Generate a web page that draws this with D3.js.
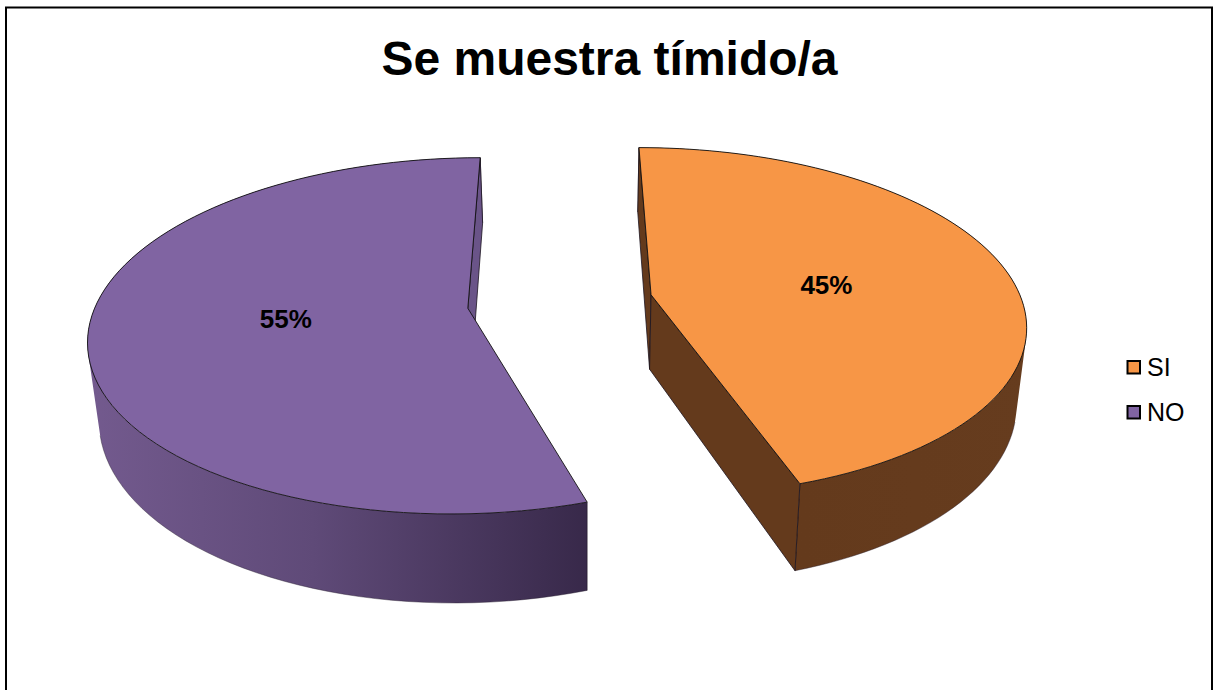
<!DOCTYPE html>
<html>
<head>
<meta charset="utf-8">
<script src="https://d3js.org/d3.v7.min.js"></script>
<style>
    body { margin: 0; background: #fff; }
    svg { display: block; }
    text { font-family: "Liberation Sans", Arial, sans-serif; fill: #000; }
</style>
</head>
<body>
<script>
"use strict";
(function(){
    // Chart data
    const categories = ["SI", "NO"];
    const percents = [45, 55];
    const chartTitle = "Se muestra tímido/a";

    // Colors per slice
    const topColors = ["#F79646", "#8064A2"];
    const cutColors = ["#643A1C", "#6A5488"];

    const measurements = { width: 1213, height: 690 };

    // Perspective of the pie: horizon, vertical vanishing, radius on screen
    const view = {
        vanishX: 560,
        horizonY: -815,
        radiusX: 371,
        planeY: 1116.5,
        distance: 6.5,
        depthY: 1.067,
        depthX: 0.977,
        leanX: 586,
        explode: 0.25
    };

    // Where the percent labels sit inside their slice
    const labelRadius = [0.49, 0.485];
    const labelNudge = [3, -3];

    const svg = d3.select("body").append("svg")
        .attr("width", measurements.width)
        .attr("height", measurements.height);

    // Projects a point of the pie plane to the screen, bottom=true gives the lower face
    function project(wx, wy, bottom) {
        const w = 1 / (1 - wy / view.distance);
        let x = view.vanishX + view.radiusX * wx * w;
        let y = view.horizonY + view.planeY * w;
        if (bottom) {
            x = view.leanX + (x - view.leanX) * view.depthX;
            y = view.horizonY + (y - view.horizonY) * view.depthY;
        }
        return [x, y];
    }

    // Point at a radius and a pie angle inside one exploded slice
    function slicePoint(d, radius, angle, bottom) {
        const mid = (d.startAngle + d.endAngle) / 2;
        const wx = view.explode * Math.sin(mid) + radius * Math.sin(angle);
        const wy = -view.explode * Math.cos(mid) - radius * Math.cos(angle);
        return project(wx, wy, bottom);
    }

    function rimAngles(d) {
        const steps = 90;
        return d3.range(steps + 1).map(i => d.startAngle + (d.endAngle - d.startAngle) * i / steps);
    }

    const pie = d3.pie().sort(null).startAngle(0).endAngle(2 * Math.PI);
    const slices = pie(percents);
    const line = d3.line();

    drawFrame();
    drawGradients();
    slices.forEach(drawSlice);
    drawLabels();
    drawLegend();

    // Chart border, the bottom runs off the picture
    function drawFrame() {
        svg.append("path")
            .attr("d", line([[6, measurements.height + 5], [6, 7.5], [1212, 7.5], [1212, measurements.height + 5]]))
            .attr("fill", "none")
            .attr("stroke", "#000")
            .attr("stroke-width", 2);

        svg.append("text")
            .attr("x", 609.5)
            .attr("y", 75)
            .attr("text-anchor", "middle")
            .attr("font-size", 48)
            .attr("font-weight", "bold")
            .text(chartTitle);
    }

    // Shading of the outer walls, one for each slice
    function drawGradients() {
        const defs = svg.append("defs");
        const orange = defs.append("linearGradient")
            .attr("id", "wall0")
            .attr("gradientUnits", "userSpaceOnUse")
            .attr("x1", 800).attr("x2", 1030).attr("y1", 0).attr("y2", 0);
        orange.append("stop").attr("offset", 0).attr("stop-color", "#643A1C");
        orange.append("stop").attr("offset", 1).attr("stop-color", "#663C1E");

        const purple = defs.append("linearGradient")
            .attr("id", "wall1")
            .attr("gradientUnits", "userSpaceOnUse")
            .attr("x1", 90).attr("x2", 586).attr("y1", 0).attr("y2", 0);
        purple.append("stop").attr("offset", 0).attr("stop-color", "#735A8E");
        purple.append("stop").attr("offset", 0.45).attr("stop-color", "#5F4A78");
        purple.append("stop").attr("offset", 1).attr("stop-color", "#38294A");
    }

    function drawSlice(d, i) {
        const g = svg.append("g").attr("class", "slice");
        const angles = rimAngles(d);
        const topRim = angles.map(a => slicePoint(d, 1, a, false));
        const bottomRim = angles.map(a => slicePoint(d, 1, a, true));
        const apexTop = slicePoint(d, 0, 0, false);
        const apexBottom = slicePoint(d, 0, 0, true);

        // Outer wall: all strips in one path, same winding, so no seams show
        const wallPath = d3.range(angles.length - 1).map(k => {
            const quad = [topRim[k], topRim[k + 1], bottomRim[k + 1], bottomRim[k]];
            if (d3.polygonArea(quad) < 0) quad.reverse();
            return line(quad) + "Z";
        }).join("");

        g.append("path")
            .attr("d", wallPath)
            .attr("fill", "url(#wall" + i + ")")
            .attr("fill-rule", "nonzero");

        // Lower rim, front part only, and the vertical edges of the wall
        g.append("path")
            .attr("d", line(bottomRim.filter((p, k) => Math.cos(angles[k]) < -0.25)))
            .attr("fill", "none")
            .attr("stroke", "#2a2030")
            .attr("stroke-opacity", 0.6)
            .attr("stroke-width", 0.7);

        [0, angles.length - 1].forEach(k => {
            g.append("path")
                .attr("d", line([topRim[k], bottomRim[k]]))
                .attr("stroke", "#1c1420")
                .attr("stroke-opacity", 0.8)
                .attr("stroke-width", 0.7);
        });

        // Cut faces, only the ones turned to the viewer
        [0, angles.length - 1].forEach(k => {
            const cross = (topRim[k][0] - apexTop[0]) * (apexBottom[1] - apexTop[1])
                - (topRim[k][1] - apexTop[1]) * (apexBottom[0] - apexTop[0]);
            const visible = k === 0 ? cross < 0 : cross > 0;
            if (!visible) return;
            g.append("path")
                .attr("d", line([apexTop, topRim[k], bottomRim[k], apexBottom]) + "Z")
                .attr("fill", cutColors[i])
                .attr("stroke", "#1c1420")
                .attr("stroke-width", 0.8)
                .attr("stroke-linejoin", "round");
        });

        // Top face
        g.append("path")
            .attr("d", line([apexTop].concat(topRim)) + "Z")
            .attr("fill", topColors[i])
            .attr("stroke", "#111")
            .attr("stroke-width", 0.9)
            .attr("stroke-linejoin", "round");
    }

    function drawLabels() {
        svg.selectAll(".pct")
            .data(slices)
            .enter()
            .append("text")
                .attr("class", "pct")
                .attr("transform", (d, i) => {
                    const mid = (d.startAngle + d.endAngle) / 2;
                    const p = slicePoint(d, labelRadius[i], mid, false);
                    return "translate(" + p[0] + "," + (p[1] + labelNudge[i]) + ")";
                })
                .attr("text-anchor", "middle")
                .attr("dy", "0.35em")
                .attr("font-size", 26)
                .attr("font-weight", "bold")
                .text(d => d.data + "%");
    }

    function drawLegend() {
        const legendY = d3.scalePoint()
            .domain(categories)
            .range([367, 412]);

        const items = svg.selectAll(".legend")
            .data(categories)
            .enter()
            .append("g")
                .attr("class", "legend")
                .attr("transform", d => "translate(1127," + legendY(d) + ")");

        items.append("rect")
            .attr("x", 0.5)
            .attr("y", -6)
            .attr("width", 12.5)
            .attr("height", 12.5)
            .attr("fill", (d, i) => topColors[i])
            .attr("stroke", "#000")
            .attr("stroke-width", 2);

        items.append("text")
            .attr("x", 20)
            .attr("y", 9)
            .attr("font-size", 25)
            .text(d => d);
    }
})()
</script>
</body>
</html>
